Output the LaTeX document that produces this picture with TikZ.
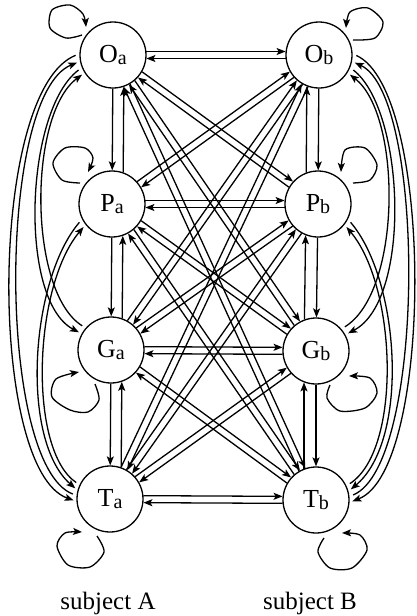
\documentclass[tikz,border=0pt]{standalone}
\usepackage{fontspec}
\setmainfont{Liberation Serif}
\usetikzlibrary{calc,arrows.meta}
\tikzset{
  st/.style={circle,draw,line width=1.3pt,minimum size=66pt,inner sep=0pt,font=\fontsize{26}{26}\selectfont},
  arr/.style={line width=1.3pt,-{Stealth[length=9pt,width=7pt,inset=2pt]}},
  captext/.style={font=\fontsize{25}{25}\selectfont,anchor=base},
  crv/.style={arr,shorten <=4pt,shorten >=3pt}
}
\newcommand\sbs[1]{\raisebox{-2pt}{\fontsize{20}{20}\selectfont #1}}
\newcommand\edg[3]{%
  \pgfmathsetmacro\tmpL{sqrt(33.6*33.6-(#3)*(#3))}%
  \draw[arr,shorten <=\tmpL pt,shorten >=\tmpL pt] ($(#1)!#3pt!90:(#2)$) -- ($(#2)!#3pt!-90:(#1)$);}
\begin{document}
\begin{tikzpicture}[x=1pt,y=-1pt]
\useasboundingbox (0,0) rectangle (416,616);
\node[st] (Oa) at (113,55) {O\sbs{a}};
\node[st] (Pa) at (112,204) {P\sbs{a}};
\node[st] (Ga) at (111,350) {G\sbs{a}};
\node[st] (Ta) at (110,499) {T\sbs{a}};
\node[st] (Ob) at (319,55) {O\sbs{b}};
\node[st] (Pb) at (318,204) {P\sbs{b}};
\node[st] (Gb) at (316,351) {G\sbs{b}};
\node[st] (Tb) at (316,500) {T\sbs{b}};
\node[captext] (sa) at (108,609) {subject A};
\node[captext] (sb) at (310,609) {subject B};
% cross edges (complete bipartite, both directions)
\foreach \l in {Oa,Pa,Ga,Ta}{\foreach \r in {Ob,Pb,Gb,Tb}{\edg{\l}{\r}{3.5}\edg{\r}{\l}{3.5}}}
% vertical neighbours
\edg{Oa}{Pa}{0}\edg{Pa}{Oa}{-11}
\edg{Pa}{Ga}{0}\edg{Ga}{Pa}{-11}
\edg{Ga}{Ta}{0}\edg{Ta}{Ga}{-11}
\edg{Ob}{Pb}{0}\edg{Pb}{Ob}{12}
\edg{Pb}{Gb}{0}\edg{Gb}{Pb}{12}
\edg{Gb}{Tb}{0}\edg{Tb}{Gb}{12}
% left curves
\draw[crv] (Oa.178) .. controls (-12,90) and (-12,470) .. (Ta.184);
\draw[crv] (Ta.174) .. controls (-3,465) and (-3,95) .. (Oa.191);
\draw[crv] (Oa.202) .. controls (25,110) and (18,300) .. (Ga.151);
\draw[crv] (Ga.139) .. controls (28,292) and (28,115) .. (Oa.212);
\draw[crv] (Pa.207) .. controls (30,280) and (20,440) .. (Ta.165);
\draw[crv] (Ta.155) .. controls (28,450) and (33,287) .. (Pa.218);
% right curves
\draw[crv] (Ob.2) .. controls (434,90) and (434,470) .. (Tb.-4);
\draw[crv] (Tb.6) .. controls (426,465) and (426,95) .. (Ob.-11);
\draw[crv] (Ob.-22) .. controls (405,110) and (412,300) .. (Gb.29);
\draw[crv] (Gb.41) .. controls (402,292) and (402,115) .. (Ob.-32);
\draw[crv] (Pb.-27) .. controls (400,280) and (410,440) .. (Tb.15);
\draw[crv] (Tb.25) .. controls (402,450) and (397,287) .. (Pb.-38);
% loops
\draw[arr,shift={(Oa)}] plot[smooth] coordinates {(-31,-20) (-47,-17) (-63,-27) (-61,-45) (-43,-50) (-30,-41) (-27,-28)};
\draw[arr,shift={(Ob)}] plot[smooth] coordinates {(34,-15) (56,-17) (64,-33) (49,-47) (31,-43) (27,-27)};
\draw[arr,shift={(Pa)}] plot[smooth] coordinates {(-32,-21) (-50,-24) (-59,-41) (-47,-56) (-27,-56) (-19,-46) (-24,-32)};
\draw[arr,shift={(Pb)}] plot[smooth] coordinates {(35,-21) (52,-24) (59,-39) (47,-56) (27,-54) (23,-32)};
\draw[arr,shift={(Ga)}] plot[smooth] coordinates {(-16,34) (-12,50) (-23,62) (-41,60) (-59,47) (-55,29) (-32,22)};
\draw[arr,shift={(Gb)}] plot[smooth] coordinates {(14,34) (11,47) (24,60) (49,57) (61,42) (54,27) (33,25)};
\draw[arr,shift={(Ta)}] plot[smooth] coordinates {(-13,37) (-6,53) (-20,68) (-42,66) (-53,47) (-45,34) (-28,33)};
\draw[arr,shift={(Tb)}] plot[smooth] coordinates {(8,38) (2,52) (14,68) (36,68) (51,50) (44,35) (26,33)};
\end{tikzpicture}
\end{document}
